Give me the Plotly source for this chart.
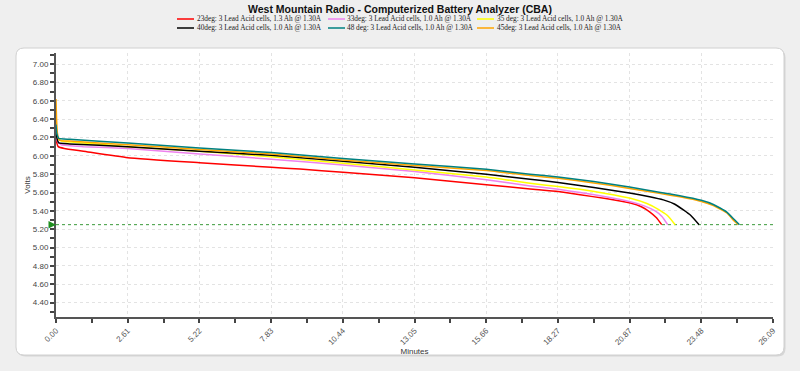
import plotly.graph_objects as go

# ---------------- data ----------------
series_names = [
    "23deg: 3 Lead Acid cells, 1.3 Ah @ 1.30A",
    "33deg: 3 Lead Acid cells, 1.0 Ah @ 1.30A",
    "35 deg: 3 Lead Acid cells, 1.0 Ah @ 1.30A",
    "40deg: 3 Lead Acid cells, 1.0 Ah @ 1.30A",
    "48 deg: 3 Lead Acid cells, 1.0 Ah @ 1.30A",
    "45deg: 3 Lead Acid cells, 1.0 Ah @ 1.30A",
]

t_23 = [0, 0.03, 0.08, 0.3, 1.0, 2.61, 5.22, 7.83, 8.88, 10.44, 13.05, 15.66, 17.25, 18.27, 19.07, 20.0, 20.9, 21.3, 21.6, 21.85, 22.04]
v_23 = [6.24, 6.14, 6.10, 6.08, 6.05, 5.98, 5.925, 5.875, 5.856, 5.82, 5.76, 5.685, 5.638, 5.61, 5.575, 5.535, 5.485, 5.445, 5.39, 5.325, 5.25]

t_33 = [0, 0.05, 0.2, 1.0, 2.61, 5.22, 7.83, 10.44, 13.05, 15.66, 17.25, 18.27, 19.07, 20.0, 20.9, 21.4, 21.8, 22.05, 22.26]
v_33 = [6.28, 6.16, 6.12, 6.10, 6.08, 6.02, 5.963, 5.90, 5.83, 5.74, 5.672, 5.635, 5.60, 5.555, 5.50, 5.455, 5.40, 5.34, 5.25]

t_35 = [0, 0.05, 0.2, 1.0, 2.61, 5.22, 7.83, 10.44, 13.05, 15.66, 17.25, 18.27, 19.07, 20.0, 20.9, 21.5, 21.9, 22.25, 22.53]
v_35 = [6.32, 6.20, 6.16, 6.14, 6.10, 6.05, 5.99, 5.92, 5.845, 5.77, 5.70, 5.665, 5.635, 5.59, 5.537, 5.48, 5.42, 5.35, 5.25]

t_40 = [0, 0.03, 0.1, 0.5, 2.61, 5.22, 7.83, 10.44, 13.05, 15.66, 17.25, 18.27, 19.57, 20.87, 21.6, 22.1, 22.5, 22.83, 23.1, 23.4]
v_40 = [6.30, 6.20, 6.14, 6.13, 6.10, 6.05, 6.005, 5.94, 5.875, 5.80, 5.744, 5.71, 5.655, 5.595, 5.555, 5.52, 5.475, 5.41, 5.35, 5.25]

t_48 = [0, 0.03, 0.1, 0.5, 2.61, 5.22, 7.83, 10.44, 13.05, 15.66, 17.25, 18.27, 19.57, 20.87, 22.0, 22.7, 23.48, 23.92, 24.4, 24.7, 24.87]
v_48 = [6.34, 6.24, 6.19, 6.18, 6.14, 6.085, 6.035, 5.97, 5.91, 5.853, 5.80, 5.77, 5.72, 5.66, 5.60, 5.565, 5.515, 5.47, 5.39, 5.30, 5.25]

t_45 = [0, 0.02, 0.05, 0.12, 0.5, 2.61, 5.22, 7.83, 10.44, 13.05, 15.66, 17.25, 18.27, 19.57, 20.87, 22.0, 22.7, 23.48, 23.92, 24.4, 24.68, 24.83]
v_45 = [6.62, 6.40, 6.25, 6.17, 6.16, 6.12, 6.07, 6.02, 5.955, 5.895, 5.84, 5.785, 5.755, 5.705, 5.645, 5.588, 5.553, 5.503, 5.458, 5.38, 5.29, 5.25]

series_t = [t_23, t_33, t_35, t_40, t_45, t_48]
series_v = [v_23, v_33, v_35, v_40, v_45, v_48]
series_label_idx = [0, 1, 2, 3, 5, 4]
series_colors = ["#ff0000", "#ee82ee", "#ffff00", "#000000", "#ffa500", "#008080"]
legend_colors = ["#ff0000", "#ee82ee", "#ffff00", "#000000", "#008080", "#ffa500"]

cutoff_volts = 5.25
x_max = 26.09
x_tick_vals = [0.0, 2.609, 5.218, 7.827, 10.436, 13.045, 15.654, 18.263, 20.872, 23.481, 26.09]
x_tick_text = ["0.00", "2.61", "5.22", "7.83", "10.44", "13.05", "15.66", "18.27", "20.87", "23.48", "26.09"]
y_tick_vals = [4.4, 4.6, 4.8, 5.0, 5.2, 5.4, 5.6, 5.8, 6.0, 6.2, 6.4, 6.6, 6.8, 7.0]
y_tick_text = ["%.2f" % v for v in y_tick_vals]
title_text = "West Mountain Radio - Computerized Battery Analyzer (CBA)"

# ---------------- figure ----------------
W, H = 800, 371
L, R, T, B = 56, 773, 53, 317
pw, ph = R - L, B - T


def px(x):
    return (x - L) / pw


def py(y):
    return (B - y) / ph


fig = go.Figure()

# cutoff line
fig.add_trace(go.Scatter(x=[0, x_max], y=[cutoff_volts, cutoff_volts], mode="lines",
                         line=dict(color="#3a9a3a", width=1, dash="dot"),
                         hoverinfo="skip", showlegend=False))

for t, v, c, li in zip(series_t, series_v, series_colors, series_label_idx):
    fig.add_trace(go.Scatter(x=t, y=v, mode="lines", name=series_names[li],
                             line=dict(color=c, width=1.5, shape="spline", smoothing=0.4),
                             showlegend=False))

shapes = []
# panel
x0, x1 = px(16), px(784)
yT, yB = py(48), py(355)
rx, ry = 8 / pw, 8 / ph
sx, sy = 1.5 / pw, 1.5 / ph


def rpath(x0, x1, yT, yB):
    return (f"M {x0+rx},{yT} L {x1-rx},{yT} Q {x1},{yT} {x1},{yT-ry} L {x1},{yB+ry} "
            f"Q {x1},{yB} {x1-rx},{yB} L {x0+rx},{yB} Q {x0},{yB} {x0},{yB+ry} "
            f"L {x0},{yT-ry} Q {x0},{yT} {x0+rx},{yT} Z")


shapes.append(dict(type="path", xref="paper", yref="paper", layer="below",
                   path=rpath(x0 + sx, x1 + sx, yT - sy, yB - sy),
                   fillcolor="#d6d6d6", line=dict(width=0)))
shapes.append(dict(type="path", xref="paper", yref="paper", layer="below",
                   path=rpath(x0, x1, yT, yB),
                   fillcolor="#ffffff", line=dict(color="#d0d0d0", width=1)))

# manual legend (3 columns x 2 rows)
legend_cols = [(177, 195), (328, 345), (477, 495)]
legend_rows = [19, 28]
annotations = []
for i, name in enumerate(series_names):
    col = i % 3
    row = i // 3
    lx, tx = legend_cols[col]
    yy = py(legend_rows[row])
    shapes.append(dict(type="line", xref="paper", yref="paper",
                       x0=px(lx), x1=px(lx + 17), y0=yy, y1=yy,
                       line=dict(color=legend_colors[i], width=1.5)))
    annotations.append(dict(xref="paper", yref="paper", x=px(tx), y=yy, text=name,
                            showarrow=False, xanchor="left", yanchor="middle",
                            font=dict(family="Liberation Serif", size=7.3, color="#222")))

# title
annotations.append(dict(xref="paper", yref="paper", x=px(400), y=py(9), text="<b>" + title_text + "</b>",
                        showarrow=False, xanchor="center", yanchor="middle",
                        font=dict(family="Liberation Sans", size=10.5, color="#111")))

# cutoff arrow
annotations.append(dict(x=0, y=cutoff_volts, xref="x", yref="y", ax=-6, ay=0, text="",
                        showarrow=True, arrowhead=2, arrowsize=1, arrowwidth=1.5,
                        arrowcolor="#1f8f1f"))

fig.update_layout(
    width=W, height=H,
    margin=dict(l=L, r=W - R, t=T, b=H - B, autoexpand=False),
    paper_bgcolor="#efefef", plot_bgcolor="#ffffff",
    shapes=shapes, annotations=annotations,
    showlegend=False,
)

fig.update_xaxes(
    range=[0, x_max], tickmode="array", tickvals=x_tick_vals, ticktext=x_tick_text,
    tickangle=-45, tickfont=dict(family="Liberation Sans", size=8, color="#555"),
    ticks="outside", ticklen=4, tickwidth=1.5, tickcolor="#444",
    showline=True, linecolor="#555", linewidth=2,
    showgrid=True, gridcolor="#e3e3e3", griddash="dot", gridwidth=1,
    zeroline=False, automargin=False,
    minor=dict(tickmode="linear", tick0=0, dtick=1.3045, ticks="outside", ticklen=4,
               tickwidth=1.5, tickcolor="#444", showgrid=False),
    title=dict(text="Minutes", font=dict(family="Liberation Sans", size=8, color="#333"), standoff=0),
)
fig.update_yaxes(
    range=[4.244, 7.12], tickmode="array", tickvals=y_tick_vals, ticktext=y_tick_text,
    tickfont=dict(family="Liberation Sans", size=8, color="#444"),
    ticks="outside", ticklen=4, tickwidth=1.5, tickcolor="#444",
    showline=True, linecolor="#555", linewidth=2,
    showgrid=True, gridcolor="#e3e3e3", griddash="dot", gridwidth=1,
    zeroline=False, automargin=False,
    minor=dict(tickmode="linear", tick0=4.3, dtick=0.1, ticks="outside", ticklen=4,
               tickwidth=1.5, tickcolor="#444", showgrid=False),
    title=dict(text="Volts", font=dict(family="Liberation Sans", size=8, color="#333"), standoff=1),
)

fig.write_html("out.html", config={"displayModeBar": False},
               post_script="document.body.style.margin='0';document.body.style.padding='0';"
                           "document.body.style.background='#efefef';")
